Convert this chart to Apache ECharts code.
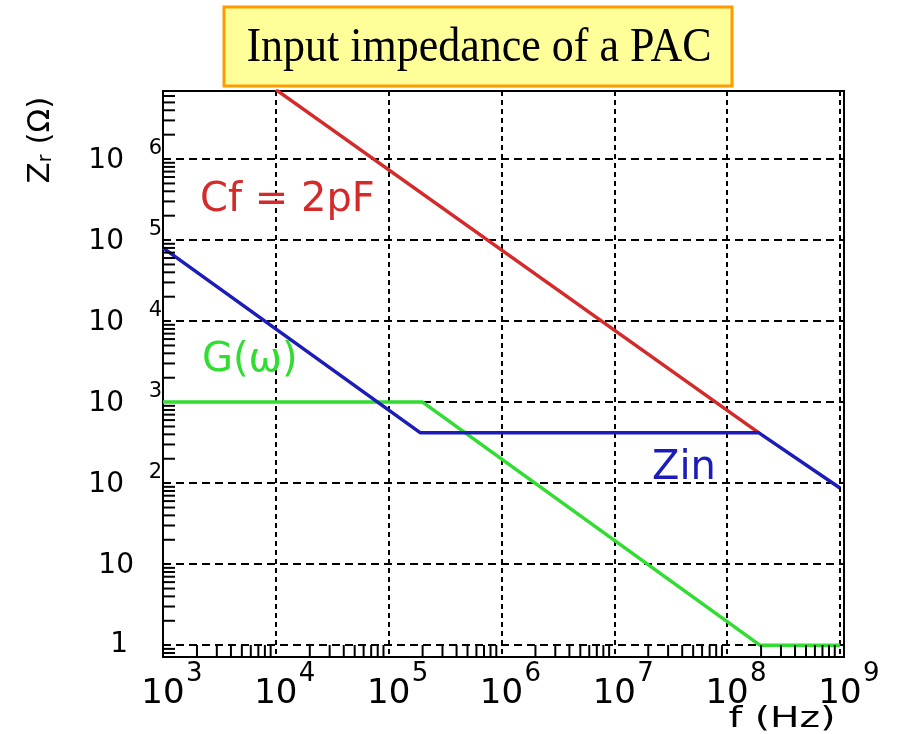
<!DOCTYPE html>
<html><head><meta charset="utf-8">
<script src="https://cdn.jsdelivr.net/npm/echarts@6/dist/echarts.min.js"></script>
<style>html,body{margin:0;padding:0;background:#fff}#c{width:897px;height:734px}</style>
</head><body><div id="c"></div>
<script>
// ---- data ----
const cfFreq = [1.0e4, 1.9e8];          // Cf = 2pF line (Hz)
const cfZ    = [7.2e6, 420];            // ohm
const zinFreq = [1e3, 1.9e5, 1.9e8, 1e9];
const zinZ    = [8.0e4, 420, 420, 87];
const gFreq = [1e3, 2.0e5, 1.95e8, 1e9];
const gZ    = [1000, 1000, 1, 1];
const xDecades = [3, 4, 5, 6, 7, 8, 9];     // x tick labels 10^n
const yDecades = [0, 1, 2, 3, 4, 5, 6];     // y tick labels
const minorMultipliers = [2, 3, 4, 5, 6, 7, 8, 9];

const xMinV = 1e3, xMaxV = Math.pow(10, 9.036);
const yMinV = Math.pow(10, -0.146), yMaxV = Math.pow(10, 6.84);

const FONT = 'DejaVu Sans';
const isPow = v => { const e = Math.log10(v); return Math.abs(e - Math.round(e)) < 1e-6; };
const expOf = v => Math.round(Math.log10(v));
const zip = (a, b) => a.map((v, i) => [v, b[i]]);

function minorValues(minV, maxV) {
  const out = [];
  for (let d = Math.floor(Math.log10(minV)) - 1; d <= Math.ceil(Math.log10(maxV)); d++) {
    minorMultipliers.forEach(m => { const v = m * Math.pow(10, d); if (v > minV && v < maxV) out.push(v); });
  }
  return out;
}
const xMinor = minorValues(xMinV, xMaxV);
const yMinor = minorValues(yMinV, yMaxV);

const chart = echarts.init(document.getElementById('c'), null, {renderer: 'canvas', width: 897, height: 734});
const gridBase = {left: 163, top: 91, right: 53, bottom: 77, containLabel: false, outerBoundsMode: 'none'};

const option = {
  animation: false,
  backgroundColor: '#fff',
  grid: [
    Object.assign({show: true, borderColor: '#000', borderWidth: 2, backgroundColor: 'transparent'}, gridBase),
    Object.assign({show: false}, gridBase)
  ],
  xAxis: [
    {gridIndex: 0, type: 'log', logBase: 10, min: xMinV, max: xMaxV,
     axisLine: {show: false}, axisTick: {show: false}, minorTick: {show: false}, minorSplitLine: {show: false},
     splitLine: {show: true, lineStyle: {color: '#000', width: 2, type: [5, 4]}},
     axisLabel: {show: true, showMinLabel: true, showMaxLabel: true, hideOverlap: false,
       formatter: v => (isPow(v) && xDecades.includes(expOf(v))) ? '10' : '',
       fontFamily: FONT, fontSize: 34, color: '#000', margin: 20}},
    {gridIndex: 1, type: 'log', logBase: 10, min: xMinV, max: xMaxV, position: 'bottom',
     axisLine: {show: false}, axisTick: {show: false}, splitLine: {show: false},
     axisLabel: {show: true, showMinLabel: true, showMaxLabel: true, hideOverlap: false,
       formatter: v => (isPow(v) && xDecades.includes(expOf(v))) ? String(expOf(v)) : '',
       fontFamily: FONT, fontSize: 26, color: '#000', align: 'left', padding: [0, 0, 0, 23], margin: 4}}
  ],
  yAxis: [
    {gridIndex: 0, type: 'log', logBase: 10, min: yMinV, max: yMaxV,
     axisLine: {show: false}, axisTick: {show: false}, minorTick: {show: false}, minorSplitLine: {show: false},
     splitLine: {show: true, lineStyle: {color: '#000', width: 2, type: [8, 5]}},
     axisLabel: {show: true, showMinLabel: true, showMaxLabel: true, hideOverlap: false, margin: 29,
       formatter: v => {
         if (!isPow(v) || !yDecades.includes(expOf(v))) return '';
         const e = expOf(v);
         if (e >= 2) return '{a|10}';
         if (e === 1) return '{b|10}';
         return '{c|1}';
       },
       rich: {
         a: {fontFamily: FONT, fontSize: 28, color: '#000', padding: [4, 10, 0, 0]},
         b: {fontFamily: FONT, fontSize: 28, color: '#000', padding: [4, 0, 0, 0]},
         c: {fontFamily: FONT, fontSize: 28, color: '#000', padding: [0, 6, 0, 0]}
       }}},
    {gridIndex: 1, type: 'log', logBase: 10, min: yMinV, max: yMaxV, position: 'left',
     axisLine: {show: false}, axisTick: {show: false}, splitLine: {show: false},
     axisLabel: {show: true, showMinLabel: true, showMaxLabel: true, hideOverlap: false,
       formatter: v => (isPow(v) && expOf(v) >= 2 && yDecades.includes(expOf(v))) ? String(expOf(v)) : '',
       fontFamily: FONT, fontSize: 21, color: '#000', verticalAlign: 'bottom', margin: 1}}
  ],
  series: [
    {name: 'G(ω)', type: 'line', xAxisIndex: 0, yAxisIndex: 0, data: zip(gFreq, gZ), showSymbol: false, symbol: 'none',
     clip: true, lineStyle: {color: '#30dd30', width: 3.5}, z: 3},
    {name: 'Cf = 2pF', type: 'line', xAxisIndex: 0, yAxisIndex: 0, data: zip(cfFreq, cfZ), showSymbol: false, symbol: 'none',
     clip: true, lineStyle: {color: '#d42a2a', width: 3.5}, z: 4},
    {name: 'Zin', type: 'line', xAxisIndex: 0, yAxisIndex: 0, data: zip(zinFreq, zinZ), showSymbol: false, symbol: 'none',
     clip: true, lineStyle: {color: '#1c1cb8', width: 3.5}, z: 5},
    {type: 'custom', xAxisIndex: 0, yAxisIndex: 0, data: xMinor.map(v => [v, yMinV]), z: 6, silent: true,
     renderItem: (params, api) => {
       const p = api.coord([api.value(0), yMinV]);
       return {type: 'line', shape: {x1: p[0], y1: p[1], x2: p[0], y2: p[1] - 12}, style: {stroke: '#000', lineWidth: 2}};
     }},
    {type: 'custom', xAxisIndex: 0, yAxisIndex: 0, data: yMinor.map(v => [xMinV, v]), z: 6, silent: true,
     renderItem: (params, api) => {
       const p = api.coord([xMinV, api.value(1)]);
       return {type: 'line', shape: {x1: p[0], y1: p[1], x2: p[0] + 12, y2: p[1]}, style: {stroke: '#000', lineWidth: 2}};
     }}
  ],
  graphic: [
    {type: 'rect', shape: {x: 224, y: 7, width: 508, height: 79}, style: {fill: '#ffff99', stroke: '#ff9a00', lineWidth: 3}, z: 10},
    {type: 'text', x: 479, y: 48, scaleY: 1.12, z: 11,
     style: {text: 'Input impedance of a PAC', font: '44px "Liberation Serif"', fill: '#000', align: 'center', verticalAlign: 'middle'}},
    {type: 'text', x: 200, y: 201, z: 11,
     style: {text: 'Cf = 2pF', font: '40px "DejaVu Sans"', fill: '#d42a2a', align: 'left', verticalAlign: 'middle'}},
    {type: 'text', x: 202, y: 361, z: 11,
     style: {text: 'G(ω)', font: '40px "DejaVu Sans"', fill: '#30dd30', align: 'left', verticalAlign: 'middle'}},
    {type: 'text', x: 652, y: 469, z: 11,
     style: {text: 'Zin', font: '40px "DejaVu Sans"', fill: '#1c1cb8', align: 'left', verticalAlign: 'middle'}},
    {type: 'text', x: 782, y: 720, scaleX: 1.4, z: 11,
     style: {text: 'f (Hz)', font: '28px "DejaVu Sans"', fill: '#000', align: 'center', verticalAlign: 'middle'}},
    {type: 'text', x: 41, y: 140, rotation: Math.PI / 2, z: 11,
     style: {text: '{z|Z}{s|r}{z| (Ω)}', align: 'center', verticalAlign: 'middle',
       rich: {z: {fontFamily: FONT, fontSize: 31, fill: '#000', color: '#000'},
              s: {fontFamily: FONT, fontSize: 19, fill: '#000', color: '#000', padding: [10, 0, 0, 0]}}}}
  ]
};
chart.setOption(option);
</script>
</body></html>
